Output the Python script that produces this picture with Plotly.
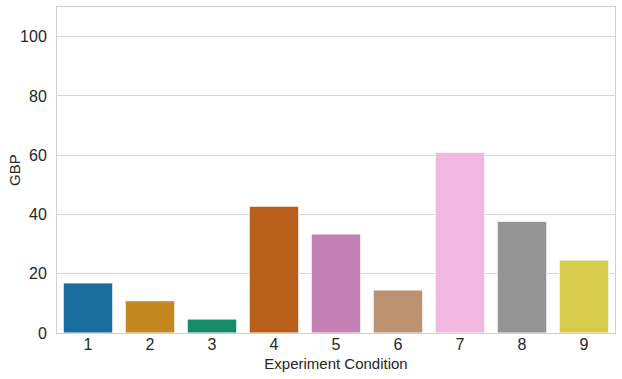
import plotly.graph_objects as go

categories = ["1", "2", "3", "4", "5", "6", "7", "8", "9"]
values = [16.9, 10.9, 4.7, 42.8, 33.4, 14.5, 61.0, 37.7, 24.6]
colors = ["#176d9c", "#c38820", "#158b6a", "#b8601b", "#c280b5", "#bc9270",
          "#f1b8e0", "#949494", "#d6cb4a"]

fig = go.Figure(go.Bar(
    x=categories, y=values,
    marker=dict(color=colors, line=dict(color="white", width=1)),
))

font_family = "Liberation Sans, Arial, sans-serif"
text_color = "#262626"
fig.update_layout(
    width=622, height=379,
    margin=dict(l=57, r=7, t=7, b=46),
    paper_bgcolor="white", plot_bgcolor="white",
    bargap=0.2,
    showlegend=False,
    font=dict(family=font_family, size=15, color=text_color),
)
fig.update_xaxes(
    type="category", automargin=False,
    showline=True, mirror=True, linecolor="#d0d0d0", linewidth=1,
    showgrid=False, ticks="", ticklabelstandoff=-3,
    title=dict(text="Experiment Condition", standoff=6,
               font=dict(size=15, color=text_color)),
    tickfont=dict(size=16, color=text_color),
)
fig.update_yaxes(
    range=[0, 110], automargin=False,
    tickvals=[0, 20, 40, 60, 80, 100],
    showline=True, mirror=True, linecolor="#d0d0d0", linewidth=1,
    showgrid=True, gridcolor="#d5d5d5", gridwidth=1,
    zeroline=False, ticks="", ticklabelstandoff=6,
    tickfont=dict(size=16, color=text_color),
)
fig.add_annotation(
    text="GBP", xref="paper", yref="paper", x=0, y=0.5,
    xanchor="center", yanchor="middle", xshift=-43, textangle=-90,
    showarrow=False, font=dict(size=15, color=text_color),
)

fig.write_html("out.html", config={"displayModeBar": False},
               post_script="document.body.style.margin='0';")
